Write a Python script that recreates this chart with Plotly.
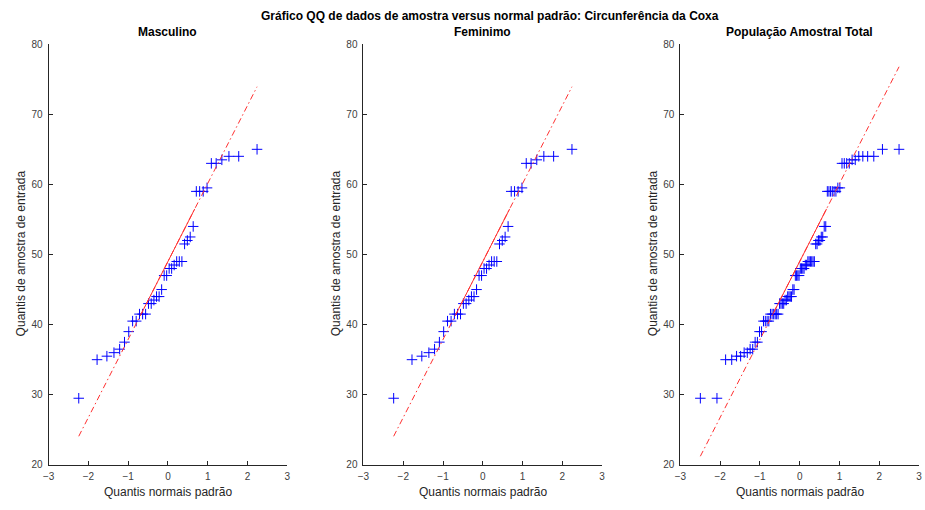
import plotly.graph_objects as go
from statistics import NormalDist

# Data (sorted sample values, thigh circumference)
masculino = [29.5, 35, 35.5, 36, 36.5, 37.5, 39, 40.5, 40.5, 41.5,
             41.5, 41.5, 43, 43, 43.5, 44, 44, 45, 47, 47,
             48, 48, 48.5, 49, 49, 49, 51.5, 52, 52.5, 54,
             59, 59, 59, 59.5, 63, 63, 63.5, 64, 64, 65]
feminino = [29.5, 35, 35.5, 36, 36.5, 37.5, 39, 40.5, 40.5, 41.5,
            41.5, 41.5, 43, 43, 43.5, 44, 44, 45, 47, 47,
            48, 48, 48.5, 49, 49, 49, 51.5, 52, 52.5, 54,
            59, 59, 59, 59.5, 63, 63, 63.5, 64, 64, 65]
total = masculino + feminino

subtitles = ["Masculino", "Feminimo", "População Amostral Total"]
suptitle = "Gráfico QQ de dados de amostra versus normal padrão: Circunferência da Coxa"
xlabel = "Quantis normais padrão"
ylabel = "Quantis de amostra de entrada"
xticks = [-3, -2, -1, 0, 1, 2, 3]
yticks = [20, 30, 40, 50, 60, 70, 80]

nd = NormalDist()


def prctile(s, p):
    n = len(s)
    pos = n * p / 100.0 + 0.5
    if pos <= 1:
        return s[0]
    if pos >= n:
        return s[-1]
    lo = int(pos)
    f = pos - lo
    return s[lo - 1] + f * (s[lo] - s[lo - 1])


W, H = 925, 510
xdoms = [(43, 284), (361, 602), (681, 922)]
ytop, ybot = 40, 470
AX = "#262626"
FONT = "Liberation Sans, Arial, Helvetica, sans-serif"

fig = go.Figure()
annotations = []
for k, data in enumerate([masculino, feminino, total]):
    s = sorted(data)
    n = len(s)
    xq = [nd.inv_cdf((i + 0.5) / n) for i in range(n)]
    q1, q3 = prctile(s, 25), prctile(s, 75)
    x1, x3 = nd.inv_cdf(0.25), nd.inv_cdf(0.75)
    slope = (q3 - q1) / (x3 - x1)
    icpt = q1 - slope * x1
    xa = "x" if k == 0 else f"x{k+1}"
    ya = "y" if k == 0 else f"y{k+1}"
    fig.add_trace(go.Scatter(
        x=xq, y=s, mode="markers", xaxis=xa, yaxis=ya,
        marker=dict(symbol="cross-thin-open", size=7.5,
                    line=dict(color="#0000ff", width=1), color="#0000ff"),
        showlegend=False))
    xe = [xq[0], xq[-1]]
    fig.add_trace(go.Scatter(
        x=xe, y=[icpt + slope * v for v in xe], mode="lines", xaxis=xa, yaxis=ya,
        line=dict(color="#ff3030", width=1, dash="6px,3px,1.5px,3px"),
        showlegend=False))
    fig.add_trace(go.Scatter(
        x=[x1, x3], y=[q1, q3], mode="lines", xaxis=xa, yaxis=ya,
        line=dict(color="#ff3030", width=1), showlegend=False))

    l, r = xdoms[k]
    axx = dict(domain=[l / W, r / W], range=[-3, 3], tickvals=xticks,
               showgrid=False, zeroline=False, showline=True, linecolor=AX,
               linewidth=1, ticks="inside", ticklen=4, tickcolor=AX,
               ticklabelstandoff=2,
               tickfont=dict(family=FONT, size=10, color="#404040"),
               anchor=ya, fixedrange=True)
    axy = dict(domain=[1 - ybot / H, 1 - ytop / H], range=[20, 80], tickvals=yticks,
               showgrid=False, zeroline=False, showline=True, linecolor=AX,
               linewidth=1, ticks="inside", ticklen=4, tickcolor=AX,
               ticklabelstandoff=3,
               tickfont=dict(family=FONT, size=10, color="#404040"),
               anchor=xa, fixedrange=True)
    fig.update_layout(**{("xaxis" if k == 0 else f"xaxis{k+1}"): axx,
                         ("yaxis" if k == 0 else f"yaxis{k+1}"): axy})
    cx = (l + r) / 2
    annotations.append(dict(text=f"<b>{subtitles[k]}</b>", x=cx / W, y=1 - 28 / H,
                            xref="paper", yref="paper", showarrow=False,
                            xanchor="center", yanchor="middle",
                            font=dict(family=FONT, size=12, color="#000000")))
    annotations.append(dict(text=xlabel, x=cx / W, y=1 - 498 / H,
                            xref="paper", yref="paper", showarrow=False,
                            xanchor="center", yanchor="middle",
                            font=dict(family=FONT, size=12, color="#262626")))
    annotations.append(dict(text=ylabel, x=(l - 28) / W, y=1 - 254 / H,
                            xref="paper", yref="paper", showarrow=False,
                            textangle=-90, xanchor="center", yanchor="middle",
                            font=dict(family=FONT, size=12, color="#262626")))

annotations.append(dict(text=f"<b>{suptitle}</b>", x=489 / W, y=1 - 11 / H,
                        xref="paper", yref="paper", showarrow=False,
                        xanchor="center", yanchor="middle",
                        font=dict(family=FONT, size=12, color="#000000")))

fig.update_layout(width=W, height=H, margin=dict(l=0, r=0, t=0, b=0),
                  paper_bgcolor="white", plot_bgcolor="white",
                  annotations=annotations)

fig.write_html("out.html")
